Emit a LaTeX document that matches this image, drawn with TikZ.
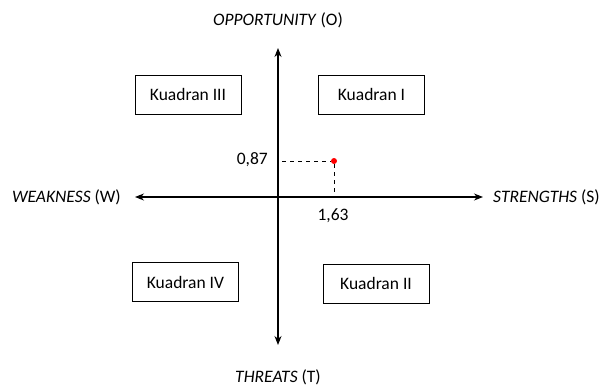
\documentclass[tikz,border=0pt]{standalone}
\usepackage{fontspec}
\setmainfont{Carlito}
\usetikzlibrary{arrows.meta}
\begin{document}
\begin{tikzpicture}[x=1pt,y=-1pt,
  quad/.style={draw,line width=0.9pt,minimum width=106pt,minimum height=39pt,font=\fontsize{17.5}{20}\selectfont,inner sep=0pt},
  lbl/.style={font=\fontsize{17.5}{20}\selectfont,inner sep=0pt},
  axis/.style={line width=1.1pt,-{Stealth[length=9pt,width=7pt]}},
  guide/.style={dashed,dash pattern=on 4pt off 4pt,line width=0.9pt}]
\useasboundingbox (0,0) rectangle (604,389);
\coordinate (o) at (278,197);
\coordinate (top) at (278,48);
\coordinate (bot) at (278,345);
\coordinate (left) at (135,197);
\coordinate (right) at (483,197);
\draw[axis] (o) -- (top);
\draw[axis] (o) -- (bot);
\draw[axis] (o) -- (left);
\draw[axis] (o) -- (right);
\node[lbl] (O) at (278,20) {\textit{OPPORTUNITY} (O)};
\node[lbl] (T) at (278,377) {\textit{THREATS} (T)};
\node[lbl,anchor=east] (W) at (121,197) {\textit{WEAKNESS} (W)};
\node[lbl,anchor=west] (S) at (493,197) {\textit{STRENGTHS} (S)};
\node[quad] (k3) at (188,94.5) {Kuadran III};
\node[quad] (k1) at (371.5,94.5) {Kuadran I};
\node[quad] (k4) at (185.5,282) {Kuadran IV};
\node[quad] (k2) at (376,283.5) {Kuadran II};
\node[circle,fill=red,inner sep=0pt,minimum size=6pt] (p) at (334,161) {};
\coordinate (py) at (282,161);
\coordinate (px) at (334,194);
\draw[guide] (py) -- (p);
\draw[guide] (p) -- (px);
\node[lbl,anchor=east] (v87) at (268,160) {0,87};
\node[lbl] (v163) at (333,216) {1,63};
\end{tikzpicture}
\end{document}
